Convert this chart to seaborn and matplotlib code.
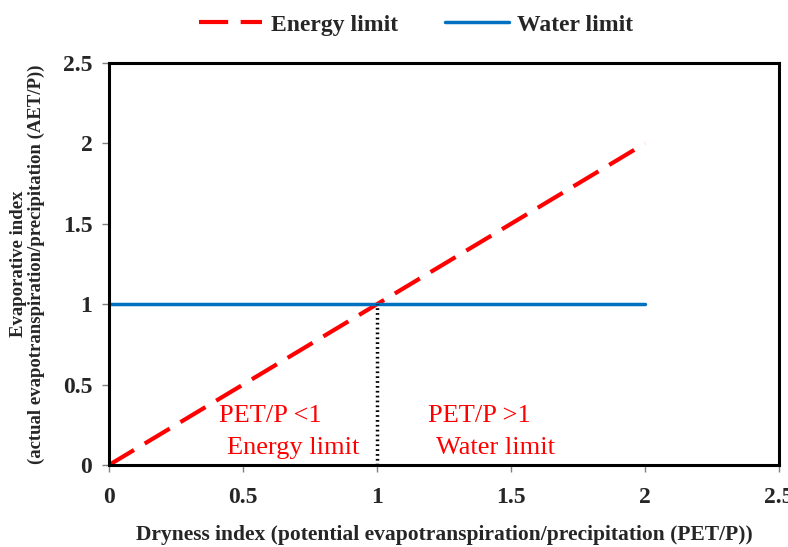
import matplotlib
matplotlib.use("Agg")
import matplotlib.pyplot as plt
import seaborn as sns
import pandas as pd

# Data
energy_x = [0, 2]
energy_y = [0, 2]
water_x = [0, 2]
water_y = [1, 1]
div_x = [1, 1]
div_y = [0, 1]
ticks = [0, 0.5, 1, 1.5, 2, 2.5]
tick_labels = ["0", "0.5", "1", "1.5", "2", "2.5"]

sns.set_theme(style="white")
plt.rcParams['font.family'] = ['Liberation Serif', 'DejaVu Serif']

fig = plt.figure(figsize=(7.88, 5.47), dpi=100)
ax = fig.add_axes([0.1383, 0.1499, 0.8503, 0.7349])

df_e = pd.DataFrame({"x": energy_x, "y": energy_y})
df_w = pd.DataFrame({"x": water_x, "y": water_y})
df_d = pd.DataFrame({"x": div_x, "y": div_y})

sns.lineplot(data=df_e, x="x", y="y", ax=ax, color="#FF0000", linewidth=3,
             label="Energy limit", sort=False, estimator=None)
ax.lines[-1].set_dashes([7, 3])
sns.lineplot(data=df_w, x="x", y="y", ax=ax, color="#0070C0", linewidth=2.5,
             label="Water limit", sort=False, estimator=None)
sns.lineplot(data=df_d, x="x", y="y", ax=ax, color="black", linewidth=2.5,
             linestyle=(0, (0.5, 0.9)), sort=False, estimator=None, legend=False)

ax.set_xlim(0, 2.5)
ax.set_ylim(0, 2.5)
ax.set_xticks(ticks)
ax.set_xticklabels(tick_labels)
ax.set_yticks(ticks)
ax.set_yticklabels(tick_labels)
ax.tick_params(axis="both", which="major", direction="out", length=5, width=1,
               color="#808080", labelsize=17, bottom=True, left=True)
ax.tick_params(axis="x", pad=11)
ax.tick_params(axis="y", pad=7)
for lab in ax.get_xticklabels() + ax.get_yticklabels():
    lab.set_fontweight("bold")

for side in ["top", "right", "left", "bottom"]:
    ax.spines[side].set_color("black")
    ax.spines[side].set_linewidth(2.2)
    ax.spines[side].set_visible(True)

ax.set_xlabel("Dryness index (potential evapotranspiration/precipitation (PET/P))",
              fontsize=15.5, fontweight="bold", labelpad=12)
ax.set_ylabel("Evaporative index\n(actual evapotranspiration/precipitation (AET/P))",
              fontsize=13.5, fontweight="bold", labelpad=13, linespacing=1.0)

ax.text(0.41, 0.27, "PET/P <1", color="#FF0000", fontsize=19)
ax.text(0.44, 0.07, "Energy limit", color="#FF0000", fontsize=19)
ax.text(1.19, 0.27, "PET/P >1", color="#FF0000", fontsize=19)
ax.text(1.22, 0.07, "Water limit", color="#FF0000", fontsize=19)

leg = ax.legend(loc="lower center", bbox_to_anchor=(0.458, 1.015), ncol=2, frameon=False,
                prop={"weight": "bold", "size": 17, "family": "Liberation Serif"},
                handlelength=2.7, columnspacing=2.0, handletextpad=0.35)

fig.savefig("out.png", dpi=100)
